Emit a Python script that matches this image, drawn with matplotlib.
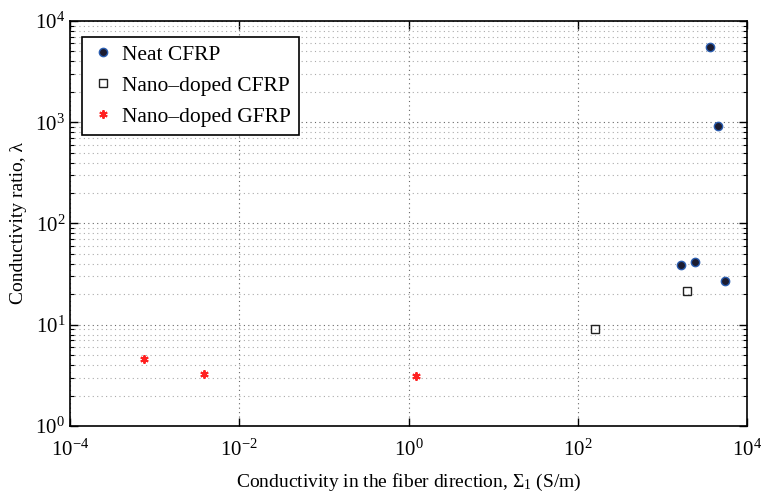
import matplotlib
matplotlib.use("Agg")
import matplotlib.pyplot as plt
from matplotlib.ticker import LogLocator, NullFormatter, FixedLocator, NullLocator

plt.rcParams['font.family'] = ['Liberation Serif', 'DejaVu Serif']
plt.rcParams['mathtext.fontset'] = 'stix'

neat_x = [3700, 4600, 1650, 2440, 5480]
neat_y = [5570, 912, 39.2, 41.4, 26.8]
cfrp_x = [1950, 159]
cfrp_y = [21.5, 9.08]
gfrp_x = [7.55e-4, 3.87e-3, 1.24]
gfrp_y = [4.56, 3.25, 3.12]
x_ticks = [1e-4, 1e-2, 1, 1e2, 1e4]

fig = plt.figure(figsize=(7.61, 4.95), dpi=100)
ax = fig.add_axes([0.092, 0.1394, 0.8896, 0.8182])
ax.set_xscale('log')
ax.set_yscale('log')
ax.set_xlim(1e-4, 1e4)
ax.set_ylim(1, 1e4)

ax.plot(neat_x, neat_y, 'o', ms=6, mfc='#1c1c30', mec='#2a5db0', mew=1.0,
        ls='none', label='Neat CFRP')
ax.plot(cfrp_x, cfrp_y, 's', ms=5.5, mfc='none', mec='#222222', mew=1.0,
        ls='none', label='Nano\u2013doped CFRP')
ax.plot(gfrp_x, gfrp_y, ls='none', marker=(6, 2, 0), ms=6, color='#ff2020', mew=1.4,
        label='Nano\u2013doped GFRP')

ax.xaxis.set_major_locator(FixedLocator(x_ticks))
ax.xaxis.set_minor_locator(NullLocator())
ax.yaxis.set_major_locator(LogLocator(base=10, numticks=20))
ax.yaxis.set_minor_locator(LogLocator(base=10, subs=range(2, 10), numticks=20))
ax.yaxis.set_minor_formatter(NullFormatter())

ax.grid(True, which='major', ls=(0, (1, 3)), color='#666666', lw=0.8)
ax.grid(True, which='minor', ls=(0, (1, 3)), color='#aaaaaa', lw=0.8)
ax.tick_params(which='both', direction='in', top=True, right=True, labelsize=15)
ax.tick_params(which='major', length=6, width=1)
ax.tick_params(which='minor', length=3, width=0.8)
for s in ax.spines.values():
    s.set_linewidth(1.2)
ax.tick_params(axis='x', pad=10)

ax.set_xlabel('Conductivity in the fiber direction, \u03a3$\\mathregular{_1}$ (S/m)', fontsize=14, labelpad=8)
ax.set_ylabel('Conductivity ratio, \u03bb', fontsize=14, labelpad=6)

leg = ax.legend(loc='upper left', bbox_to_anchor=(0.0173, 0.961), fontsize=15.5,
                frameon=True, fancybox=False, edgecolor='black', framealpha=1,
                handletextpad=0.3, borderpad=0.38, labelspacing=0.5, handlelength=1.2,
                borderaxespad=0)
leg.get_frame().set_linewidth(1.2)

fig.savefig('out.png', dpi=100)
